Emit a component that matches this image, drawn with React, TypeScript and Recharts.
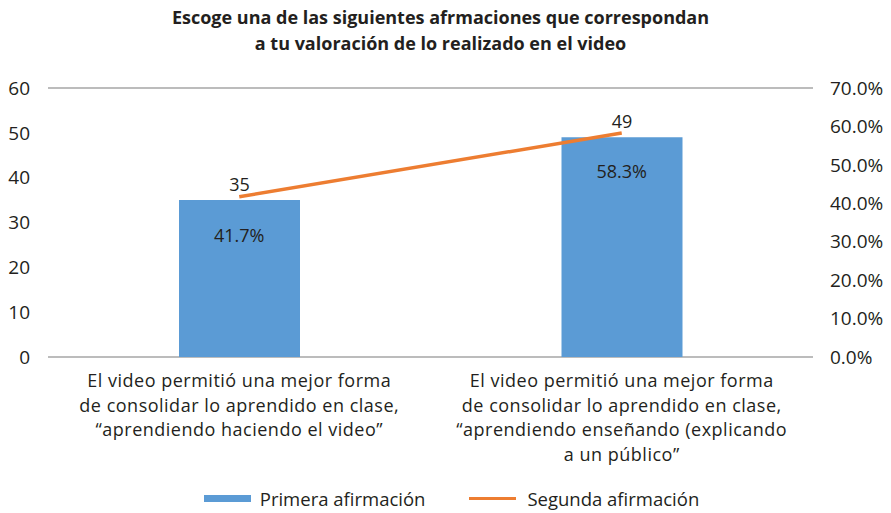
import { ComposedChart, Bar, Line, XAxis, YAxis, CartesianGrid, Legend, LabelList } from 'recharts';

const categories = [
  'El video permitió una mejor forma\nde consolidar lo aprendido en clase,\n“aprendiendo haciendo el video”',
  'El video permitió una mejor forma\nde consolidar lo aprendido en clase,\n“aprendiendo enseñando (explicando\na un público”',
];
const primera = [35, 49];
const segunda = [41.7, 58.3];
const leftTicks = [0, 10, 20, 30, 40, 50, 60];
const rightTicks = [0, 10, 20, 30, 40, 50, 60, 70];
const titleLines = [
  'Escoge una de las siguientes afrmaciones que correspondan',
  'a tu valoración de lo realizado en el video',
];
const seriesNames = ['Primera afirmación', 'Segunda afirmación'];

const data = categories.map((name, i) => ({
  name,
  primera: primera[i],
  segunda: segunda[i],
}));

const FONT = '"Open Sans", "Noto Sans", sans-serif';
const TEXT = '#231f20';
const BLUE = '#5b9bd5';
const ORANGE = '#ed7d31';

const CategoryTick = (props: any) => {
  const { x, y, payload } = props;
  const lines = String(payload.value).split('\n');
  return (
    <text x={x} y={y} textAnchor="middle" fill={TEXT} fontSize={18} letterSpacing={0.5} fontFamily={FONT}>
      {lines.map((l, i) => (
        <tspan key={i} x={x} dy={i === 0 ? 22 : 24.6}>
          {l}
        </tspan>
      ))}
    </text>
  );
};

const PctLabel = (props: any) => {
  const { x, y, value } = props;
  return (
    <text x={x} y={y + 45} textAnchor="middle" fill={TEXT} fontSize={18} fontFamily={FONT}>
      {Number(value).toFixed(1)}%
    </text>
  );
};

const LegendContent = () => (
  <div style={{ display: 'flex', justifyContent: 'center', alignItems: 'center', fontFamily: FONT, fontSize: 18.5, color: TEXT, paddingLeft: 12 }}>
    <span style={{ display: 'inline-block', width: 47, height: 7, background: BLUE, marginRight: 9 }} />
    <span style={{ marginRight: 44 }}>{seriesNames[0]}</span>
    <span style={{ display: 'inline-block', width: 47, height: 3, background: ORANGE, marginRight: 11 }} />
    <span>{seriesNames[1]}</span>
  </div>
);

export default function App() {
  return (
    <div style={{ position: 'absolute', left: 0, top: 0, width: 891, height: 513, background: '#fff' }}>
      <div
        style={{
          position: 'absolute',
          top: 4,
          left: 0,
          width: 881,
          textAlign: 'center',
          fontFamily: FONT,
          fontWeight: 700,
          fontSize: 18,
          lineHeight: '26px',
          color: TEXT,
        }}
      >
        {titleLines.map((t, i) => (
          <div key={i}>{t}</div>
        ))}
      </div>
      <ComposedChart width={891} height={513} data={data} margin={{ top: 88, right: 8, bottom: 2, left: 8 }}>
        <CartesianGrid vertical={false} stroke="#a6a6a6" strokeWidth={1.5} />
        <XAxis
          dataKey="name"
          tick={<CategoryTick />}
          axisLine={false}
          tickLine={false}
          interval={0}
          height={129}
        />
        <YAxis
          yAxisId="left"
          domain={[0, 60]}
          ticks={leftTicks}
          axisLine={false}
          tickLine={false}
          width={40}
          tickMargin={12}
          tick={{ fill: TEXT, fontSize: 19, fontFamily: FONT }}
        />
        <YAxis
          yAxisId="right"
          orientation="right"
          domain={[0, 70]}
          ticks={rightTicks}
          axisLine={false}
          tickLine={false}
          width={70}
          tickMargin={11}
          tickFormatter={(v: number) => `${v.toFixed(1)}%`}
          tick={{ fill: TEXT, fontSize: 19, fontFamily: FONT, textAnchor: 'start' }}
        />
        <Legend verticalAlign="bottom" content={<LegendContent />} />
        <Bar yAxisId="left" dataKey="primera" name={seriesNames[0]} fill={BLUE} barSize={121} isAnimationActive={false}>
          <LabelList dataKey="primera" position="top" offset={9} fill={TEXT} fontSize={18} fontFamily={FONT} />
        </Bar>
        <Line
          yAxisId="right"
          dataKey="segunda"
          name={seriesNames[1]}
          stroke={ORANGE}
          strokeWidth={3.5}
          dot={false}
          isAnimationActive={false}
        >
          <LabelList dataKey="segunda" content={<PctLabel />} />
        </Line>
      </ComposedChart>
    </div>
  );
}
